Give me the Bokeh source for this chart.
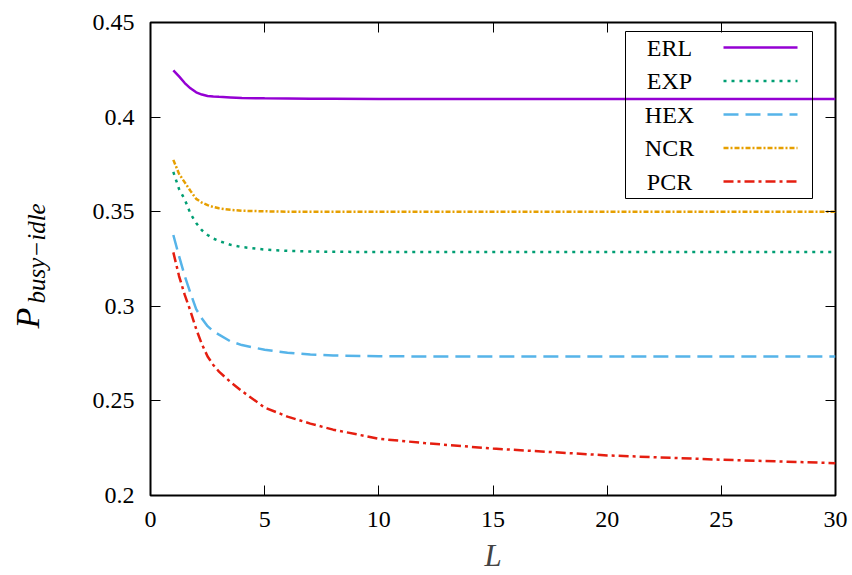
import math
from bokeh.plotting import figure
from bokeh.layouts import row
from bokeh.models import (Range1d, FixedTicker, LinearAxis, Label, BoxAnnotation,
                          Arrow, CustomJSTickFormatter, ColumnDataSource)
from bokeh.embed import file_html
from bokeh.resources import INLINE

# ---- data ----
L = [1, 1.25, 1.5, 1.75, 2, 2.25, 2.5, 2.75, 3, 3.5, 4, 5, 6, 7, 8, 10, 12, 15, 20, 25, 30]
ERL = [0.4247, 0.4215, 0.4180, 0.4152, 0.4131, 0.4119, 0.4112, 0.4109, 0.4107, 0.4104,
       0.4101, 0.4099, 0.4098, 0.4097, 0.4097, 0.4096, 0.4096, 0.4096, 0.4096, 0.4096, 0.4096]
EXP = [0.3710, 0.3620, 0.3565, 0.3490, 0.3440, 0.3402, 0.3377, 0.3358, 0.3345, 0.3325,
       0.3313, 0.3300, 0.3293, 0.3290, 0.3288, 0.3287, 0.3287, 0.3287, 0.3287, 0.3287, 0.3287]
HEX = [0.3377, 0.3265, 0.3160, 0.3070, 0.2985, 0.2935, 0.2895, 0.2868, 0.2850, 0.2815,
       0.2795, 0.2770, 0.2755, 0.2745, 0.2740, 0.2736, 0.2735, 0.2735, 0.2735, 0.2735, 0.2735]
NCR = [0.3774, 0.3700, 0.3655, 0.3610, 0.3568, 0.3548, 0.3535, 0.3525, 0.3518, 0.3510,
       0.3505, 0.3502, 0.3500, 0.3500, 0.3500, 0.3500, 0.3500, 0.3500, 0.3500, 0.3500, 0.3500]
PCR = [0.3285, 0.3160, 0.3060, 0.2975, 0.2880, 0.2800, 0.2735, 0.2690, 0.2655, 0.2600,
       0.2552, 0.2465, 0.2417, 0.2380, 0.2348, 0.2300, 0.2277, 0.2248, 0.2212, 0.2189, 0.2171]

series_names = ["ERL", "EXP", "HEX", "NCR", "PCR"]
series_vals = [ERL, EXP, HEX, NCR, PCR]
colors = ["#9400D3", "#009E73", "#56B4E9", "#E69F00", "#E51E10"]
dashes = ["solid", "3 5", "15 7", "5 2 2 2", "10 4 3 4"]

x_ticks = [0, 5, 10, 15, 20, 25, 30]
y_ticks = [0.2, 0.25, 0.3, 0.35, 0.4, 0.45]
y_tick_labels = ["0.2", "0.25", "0.3", "0.35", "0.4", "0.45"]
y_label_main, y_label_sub = "P", "busy\u2212idle"
x_label = "L"

FONT = "Liberation Serif"

p = figure(width=792, height=575, output_backend="svg", toolbar_location=None,
           x_range=Range1d(0, 30), y_range=Range1d(0.2, 0.45),
           min_border_left=90, min_border_right=17, min_border_top=22, min_border_bottom=80)
p.grid.visible = False
p.outline_line_color = "black"
p.outline_line_width = 2
p.background_fill_color = "white"
p.border_fill_color = "white"

def style_axis(ax, ticks):
    ax.ticker = FixedTicker(ticks=ticks)
    ax.minor_tick_line_color = None
    ax.major_tick_in = 10
    ax.major_tick_out = 0
    ax.major_tick_line_color = "black"
    ax.major_tick_line_width = 1
    ax.axis_line_color = None
    ax.major_label_text_font = FONT
    ax.major_label_text_font_size = "24px"
    ax.major_label_text_color = "black"

xa = p.xaxis[0]
style_axis(xa, x_ticks)
xa.major_label_standoff = 16
xa.axis_label = x_label
xa.axis_label_text_font = FONT
xa.axis_label_text_font_style = "italic"
xa.axis_label_text_font_size = "31px"
xa.axis_label_standoff = 8

ya = p.yaxis[0]
style_axis(ya, y_ticks)
ya.major_label_standoff = 16
ya.major_label_overrides = {t: s for t, s in zip(y_ticks, y_tick_labels)}

# mirror ticks
for loc, ticks in (("above", x_ticks), ("right", y_ticks)):
    ax = LinearAxis()
    style_axis(ax, ticks)
    ax.formatter = CustomJSTickFormatter(code="return '';")
    ax.major_label_text_font_size = "0px"
    ax.major_label_standoff = 0
    p.add_layout(ax, loc)

# curves
for name, vals, c, d in zip(series_names, series_vals, colors, dashes):
    src = ColumnDataSource(dict(x=L, y=vals))
    p.line("x", "y", source=src, line_color=c, line_width=2.5, line_dash=d)

# legend (frame-relative screen units)
p.add_layout(BoxAnnotation(left=475, right=662, top=464, bottom=297,
                           left_units="screen", right_units="screen",
                           top_units="screen", bottom_units="screen",
                           fill_color=None, fill_alpha=0, line_color="black", line_width=1,
                           line_alpha=1))
row0, step = 448, 33.5
for i, (name, c, d) in enumerate(zip(series_names, colors, dashes)):
    yy = row0 - i * step
    p.add_layout(Label(x=519, y=yy, x_units="screen", y_units="screen", text=name,
                       text_align="center", text_baseline="middle", text_font=FONT,
                       text_font_size="24px", text_color="black"))
    p.add_layout(Arrow(start=None, end=None, x_start=573, y_start=yy, x_end=647, y_end=yy,
                       start_units="screen", end_units="screen",
                       line_color=c, line_width=2.5, line_dash=d))

# y axis title in a narrow side strip (rotated text)
lab = figure(width=60, height=575, output_backend="svg", toolbar_location=None,
             x_range=Range1d(0, 60), y_range=Range1d(0, 575),
             x_axis_location=None, y_axis_location=None, min_border=0)
lab.grid.visible = False
lab.outline_line_color = None
lab.background_fill_color = "white"
lab.border_fill_color = "white"
lab.add_layout(Label(x=27, y=167, x_units="screen", y_units="screen", text=y_label_main,
                     angle=math.pi / 2, text_align="left", text_baseline="alphabetic",
                     text_font=FONT, text_font_style="italic", text_font_size="34px",
                     text_color="black"))
lab.add_layout(Label(x=36, y=192, x_units="screen", y_units="screen", text=y_label_sub,
                     angle=math.pi / 2, text_align="left", text_baseline="alphabetic",
                     text_font=FONT, text_font_style="italic", text_font_size="25px",
                     text_color="black"))

layout = row(lab, p, spacing=0)
open("out.html", "w").write(file_html(layout, INLINE))
